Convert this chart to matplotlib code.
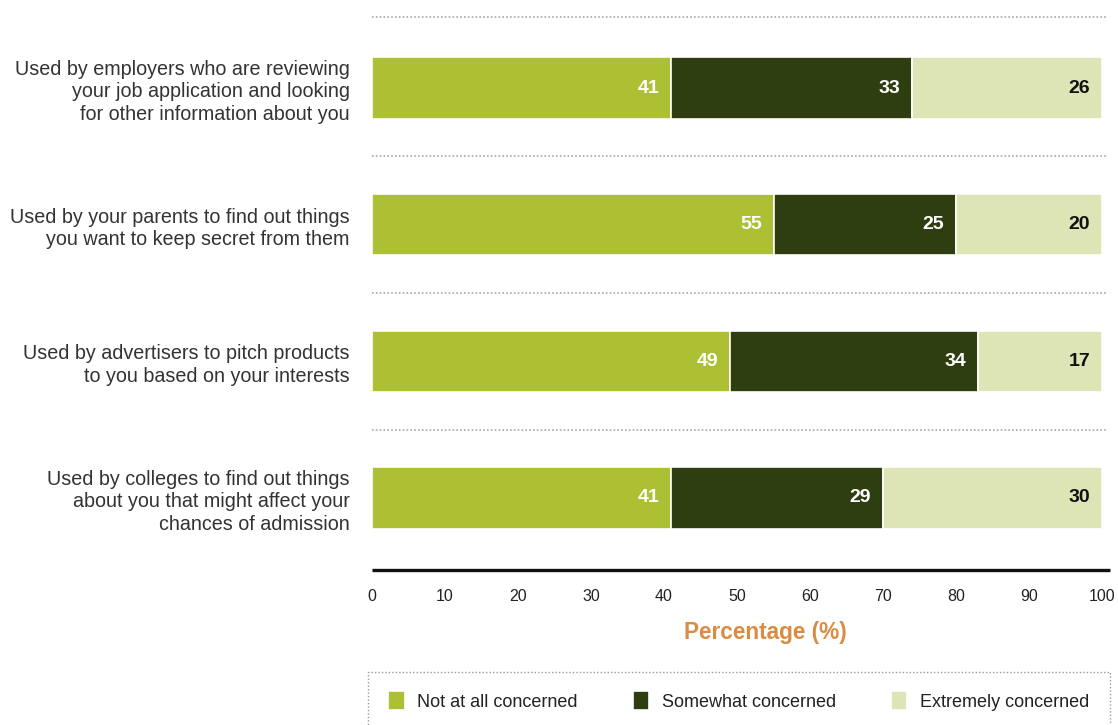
import matplotlib
matplotlib.use("Agg")
import matplotlib.pyplot as plt
from matplotlib.patches import Rectangle
import numpy as np

plt.rcParams["font.family"] = ["Liberation Sans", "DejaVu Sans"]

categories = [
    "Used by employers who are reviewing\nyour job application and looking\nfor other information about you",
    "Used by your parents to find out things\nyou want to keep secret from them",
    "Used by advertisers to pitch products\nto you based on your interests",
    "Used by colleges to find out things\nabout you that might affect your\nchances of admission",
]
series_names = ["Not at all concerned", "Somewhat concerned", "Extremely concerned"]
not_at_all = [41, 55, 49, 41]
somewhat = [33, 25, 34, 29]
extremely = [26, 20, 17, 30]
x_ticks = [0, 10, 20, 30, 40, 50, 60, 70, 80, 90, 100]

colors = ["#adc034", "#2f3e10", "#dde4b6"]
label_colors = ["white", "white", "#111111"]

W, H = 1118, 725
AX_L, AX_R, AX_T, AX_B = 372, 1102, 17, 570
fig = plt.figure(figsize=(W / 100, H / 100), dpi=100)
ax = fig.add_axes([AX_L / W, 1 - AX_B / H, (AX_R - AX_L) / W, (AX_B - AX_T) / H])

y = np.arange(len(categories))
left = np.zeros(len(categories))
containers = []
for vals, col, tcol, name in zip([not_at_all, somewhat, extremely], colors, label_colors, series_names):
    vals = np.array(vals, dtype=float)
    bc = ax.barh(y, vals, left=left, height=0.45, color=col, edgecolor="white",
                 linewidth=1.2, label=name, zorder=3)
    containers.append(bc)
    for yi, l, v in zip(y, left, vals):
        ax.annotate(f"{int(v)}", xy=(l + v, yi), xytext=(-8.5, 0), textcoords="offset points",
                    ha="right", va="center", color=tcol, fontsize=14, fontweight="bold", zorder=4)
    left = left + vals

ax.set_xlim(0, 100)
ax.set_ylim(3.527, -0.52)

# dotted separators between the rows, running slightly past the plot edge
sep_end = (1106 - AX_L) / (AX_R - AX_L)
for yy in [-0.52, 0.5, 1.5, 2.5]:
    ax.plot([0, sep_end], [yy, yy], color="#a8a8a8", linestyle=(0, (1, 1.3)), linewidth=1.2,
            transform=ax.get_yaxis_transform(), clip_on=False, zorder=1)

# heavy baseline
for s in ["top", "right", "left", "bottom"]:
    ax.spines[s].set_visible(False)
base_end = (1110 - AX_L) / (AX_R - AX_L)
ax.plot([0, base_end], [0, 0], color="#111111", linewidth=2.4, solid_capstyle="butt",
        transform=ax.transAxes, clip_on=False, zorder=5)

ax.set_xticks(x_ticks)
ax.set_xticklabels([str(t) for t in x_ticks])
ax.tick_params(axis="x", length=0, pad=13.5, labelsize=11.5, labelcolor="#222222")
ax.set_yticks(y)
ax.set_yticklabels(categories, fontsize=14.2, color="#333333", linespacing=1.25)
ax.tick_params(axis="y", length=0, pad=16)
for lbl in ax.get_yticklabels():
    lbl.set_horizontalalignment("right")
    lbl.set_multialignment("right")

ax.set_xlabel("Percentage (%)", fontsize=16.3, fontweight="bold", color="#d98c44")
ax.xaxis.set_label_coords((765 - AX_L) / (AX_R - AX_L), -(632 - AX_B) / (AX_B - AX_T))
ax.xaxis.label.set_va("center")

# legend box with dotted frame
fig.patches.append(Rectangle((368 / W, -0.05), (1110 - 368) / W, (725 - 672) / H + 0.05,
                             transform=fig.transFigure, fill=False, edgecolor="#9a9a9a",
                             linestyle=(0, (1, 1.5)), linewidth=1.0))
leg = fig.legend(handles=containers, labels=series_names, loc="center left",
                 bbox_to_anchor=(381 / W, 1 - 701 / H), ncol=3, frameon=False,
                 fontsize=13, handlelength=0.92, handleheight=1.25, handletextpad=0.68,
                 columnspacing=3.05, borderaxespad=0)
for t in leg.get_texts():
    t.set_color("#222222")

fig.savefig("out.png", dpi=100)
